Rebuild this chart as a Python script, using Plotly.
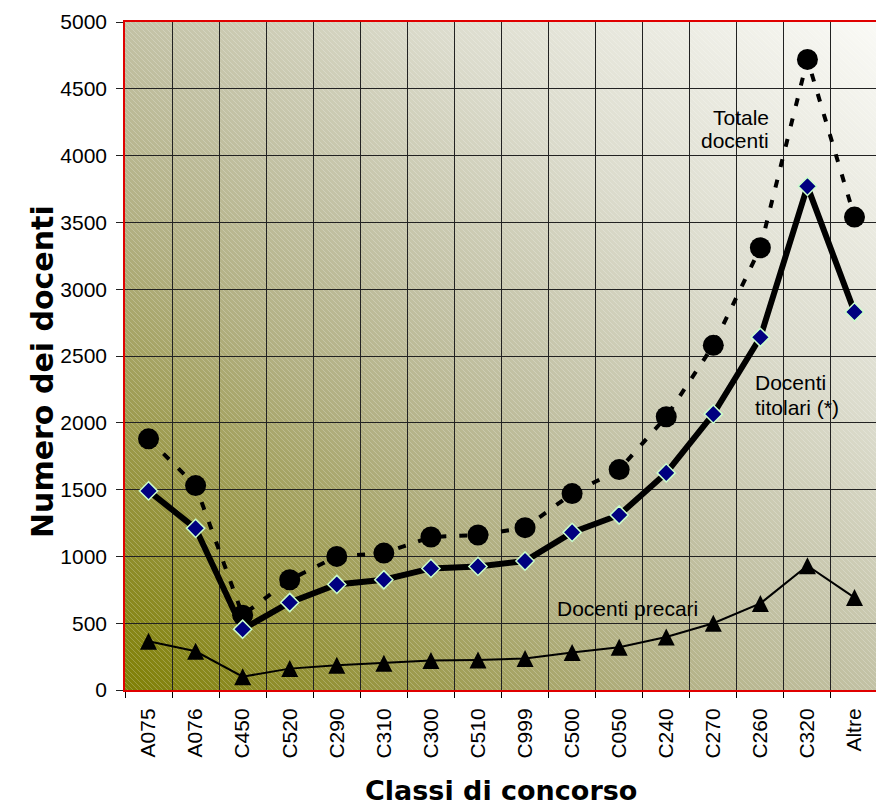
import base64
import struct
import zlib

import numpy as np
import plotly.graph_objects as go

# ---- data -------------------------------------------------------------
categories = ["A075", "A076", "C450", "C520", "C290", "C310", "C300", "C510",
              "C999", "C500", "C050", "C240", "C270", "C260", "C320", "Altre"]
totale_docenti = [1880, 1530, 560, 825, 1000, 1025, 1145, 1160,
                  1215, 1470, 1650, 2045, 2580, 3310, 4720, 3540]
docenti_titolari = [1490, 1210, 455, 655, 790, 825, 910, 925,
                    965, 1180, 1310, 1625, 2065, 2640, 3770, 2830]
docenti_precari = [365, 290, 100, 160, 185, 200, 220, 225,
                   235, 280, 320, 397, 500, 648, 930, 692]
y_ticks = list(range(0, 5001, 500))

# ---- page geometry ----------------------------------------------------
FIG_W, FIG_H = 876, 805
M_L, M_R, M_T, M_B = 125, 0, 22, 115
PLOT_W = FIG_W - M_L - M_R
PLOT_H = FIG_H - M_T - M_B
Y_MAX = 5000


def px_x(px):
    return (px - M_L) / PLOT_W


def px_y(py):
    return (FIG_H - M_B - py) / PLOT_H


# ---- plot-area background: diagonal olive -> white gradient with hatch --
def png_data_uri(rgb):
    h, w, _ = rgb.shape
    raw = b"".join(b"\x00" + rgb[i].tobytes() for i in range(h))

    def chunk(tag, data):
        body = tag + data
        return struct.pack(">I", len(data)) + body + struct.pack(">I", zlib.crc32(body) & 0xFFFFFFFF)

    png = (b"\x89PNG\r\n\x1a\n"
           + chunk(b"IHDR", struct.pack(">IIBBBBB", w, h, 8, 2, 0, 0, 0))
           + chunk(b"IDAT", zlib.compress(raw, 9))
           + chunk(b"IEND", b""))
    return "data:image/png;base64," + base64.b64encode(png).decode()


yy, xx = np.mgrid[0:PLOT_H, 0:PLOT_W]
u = xx / (PLOT_W - 1)
v = 1 - yy / (PLOT_H - 1)
t = (u + v) / 2
stops = [0.0, 0.15, 0.35, 0.5, 0.7, 1.0]
r = np.interp(t, stops, [128, 150, 178, 195, 220, 250])
g = np.interp(t, stops, [128, 148, 176, 194, 220, 250])
b = np.interp(t, stops, [5, 60, 130, 165, 205, 246])
bg = np.stack([r, g, b], axis=-1)
hatch = (((xx - yy) % 5) == 0)[..., None]
alpha = 0.22
bg = bg * (1 - alpha * hatch) + 255 * alpha * hatch
bg_img = png_data_uri(np.clip(bg, 0, 255).astype(np.uint8))

# ---- figure -----------------------------------------------------------
TRI_SIZE = 17
tri_shift = (TRI_SIZE / 2) * Y_MAX / PLOT_H  # lifts arrow-shaped marker so it is centred

fig = go.Figure()

fig.add_trace(go.Scatter(
    x=categories, y=docenti_precari, mode="lines",
    line=dict(color="black", width=2), showlegend=False, hoverinfo="skip"))
fig.add_trace(go.Scatter(
    x=categories, y=docenti_precari, mode="markers", yaxis="y2",
    marker=dict(symbol="arrow-up", size=TRI_SIZE, color="black"),
    name="Docenti precari", showlegend=False))

fig.add_trace(go.Scatter(
    x=categories, y=totale_docenti, mode="lines+markers",
    line=dict(color="black", width=4, dash="8px,13px"),
    marker=dict(symbol="circle", size=21, color="black"),
    name="Totale docenti", showlegend=False))

fig.add_trace(go.Scatter(
    x=categories, y=docenti_titolari, mode="lines+markers",
    line=dict(color="black", width=6),
    marker=dict(symbol="diamond", size=14, color="#000080",
                line=dict(color="#ccffcc", width=1.5)),
    name="Docenti titolari (*)", showlegend=False))

label_font = dict(family="Liberation Sans, Arial, sans-serif", size=21, color="black")
title_font = dict(family="DejaVu Sans, sans-serif", size=27, color="black")

annotations = [
    dict(text="Totale", x=px_x(771), y=px_y(117), xanchor="right", yanchor="middle"),
    dict(text="docenti", x=px_x(771), y=px_y(140), xanchor="right", yanchor="middle"),
    dict(text="Docenti", x=px_x(753), y=px_y(382), xanchor="left", yanchor="middle"),
    dict(text="titolari (*)", x=px_x(753), y=px_y(407), xanchor="left", yanchor="middle"),
    dict(text="Docenti precari", x=px_x(627), y=px_y(608), xanchor="center", yanchor="middle"),
]
for a in annotations:
    a.update(xref="paper", yref="paper", showarrow=False, font=label_font)
annotations.append(dict(text="<b>Classi di concorso</b>", xref="paper", yref="paper",
                        x=px_x(501), y=px_y(790), xanchor="center", yanchor="middle",
                        showarrow=False, font=title_font))
annotations.append(dict(text="<b>Numero dei docenti</b>", xref="paper", yref="paper",
                        x=px_x(42), y=px_y(372), xanchor="center", yanchor="middle",
                        textangle=-90, showarrow=False,
                        font=dict(family="DejaVu Sans, sans-serif", size=30, color="black")))

fig.update_layout(
    width=FIG_W, height=FIG_H, autosize=False,
    margin=dict(l=M_L, r=M_R, t=M_T, b=M_B, pad=0),
    paper_bgcolor="white", plot_bgcolor="rgba(0,0,0,0)",
    font=label_font,
    images=[dict(source=bg_img, xref="paper", yref="paper", x=0, y=1,
                 sizex=1, sizey=1, xanchor="left", yanchor="top",
                 sizing="stretch", layer="below")],
    xaxis=dict(
        type="category", categoryorder="array", categoryarray=categories,
        range=[-0.5, 15.457], tickson="boundaries",
        ticks="outside", ticklen=6, tickcolor="black", tickwidth=1,
        tickangle=-90, tickfont=label_font, ticklabelstandoff=8,
        showgrid=True, gridcolor="#222222", gridwidth=1,
        showline=True, linecolor="#e00000", linewidth=2, mirror=True,
        zeroline=False, fixedrange=True),
    yaxis=dict(
        range=[0, Y_MAX], tickvals=y_ticks, ticktext=[str(v) for v in y_ticks],
        ticks="outside", ticklen=7, tickcolor="#222222", tickwidth=1,
        tickfont=label_font, ticklabelstandoff=5,
        showgrid=True, gridcolor="#222222", gridwidth=1,
        showline=True, linecolor="#e00000", linewidth=1.5, mirror=False,
        zeroline=False, fixedrange=True),
    yaxis2=dict(
        overlaying="y", range=[-tri_shift, Y_MAX - tri_shift],
        visible=False, showgrid=False, zeroline=False, fixedrange=True),
    annotations=annotations,
)

fig.write_html("out.html")
